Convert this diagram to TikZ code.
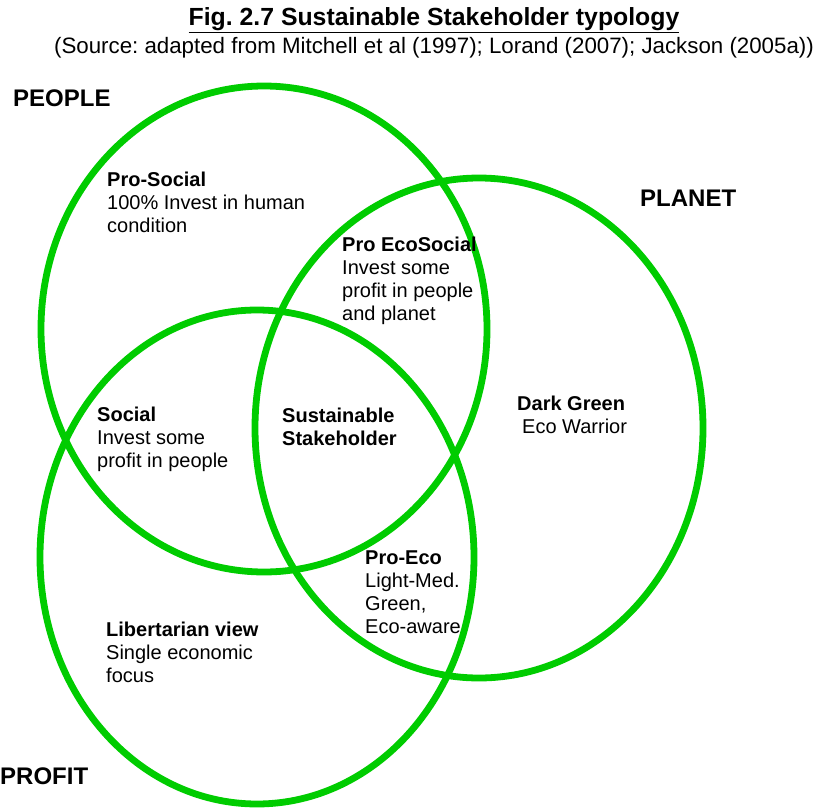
\documentclass[tikz,border=0pt]{standalone}
\usepackage{fontspec}
\setmainfont{Liberation Sans}
\usetikzlibrary{shapes.geometric}
\definecolor{ringgreen}{RGB}{0,204,0}
\frenchspacing

\begin{document}
\begin{tikzpicture}[x=1pt,y=-1pt,
		ring/.style={ellipse,draw=ringgreen,line width=6.8pt,inner sep=0pt},
		sector/.style={anchor=north west,align=left,inner sep=0pt,font=\fontsize{20}{23}\selectfont},
		pillar/.style={anchor=west,inner sep=0pt,font=\fontsize{24}{28}\selectfont\bfseries}]
	\useasboundingbox (0,0) rectangle (823,809);
	\node[font=\fontsize{24.8}{28}\selectfont\bfseries] (title) at (434,20) {\underline{Fig. 2.7 Sustainable Stakeholder typology}};
	\node[font=\fontsize{22.3}{25}\selectfont] (source) at (434,48) {(Source: adapted from Mitchell et al (1997); Lorand (2007); Jackson (2005a))};
	\node[ring,minimum width=446pt,minimum height=486pt] (people) at (264,329) {};
	\node[ring,minimum width=448pt,minimum height=500pt] (planet) at (479,428) {};
	\node[ring,minimum width=434pt,minimum height=494pt] (profit) at (257,557) {};
	\node[pillar] (peoplelabel) at (13,98) {PEOPLE};
	\node[pillar] (planetlabel) at (640,198) {PLANET};
	\node[pillar] (profitlabel) at (0,776) {PROFIT};
	\node[sector] (prosocial) at (107,172) {\textbf{Pro-Social}\\100\% Invest in human\\condition};
	\node[sector] (proecosocial) at (342,237) {\textbf{Pro EcoSocial}\\Invest some\\profit in people\\and planet};
	\node[sector] (social) at (97,407) {\textbf{Social}\\Invest some\\profit in people};
	\node[sector,font=\fontsize{20}{23}\selectfont\bfseries] (sustainable) at (282,408) {Sustainable\\Stakeholder};
	\node[sector] (darkgreen) at (517,396) {\textbf{Dark Green}\\\hspace{5pt}Eco Warrior};
	\node[sector] (proeco) at (365,551) {\textbf{Pro-Eco}\\Light-Med.\\Green,\\Eco-aware};
	\node[sector] (libertarian) at (106,622) {\textbf{Libertarian view}\\Single economic\\focus};
\end{tikzpicture}
\end{document}
